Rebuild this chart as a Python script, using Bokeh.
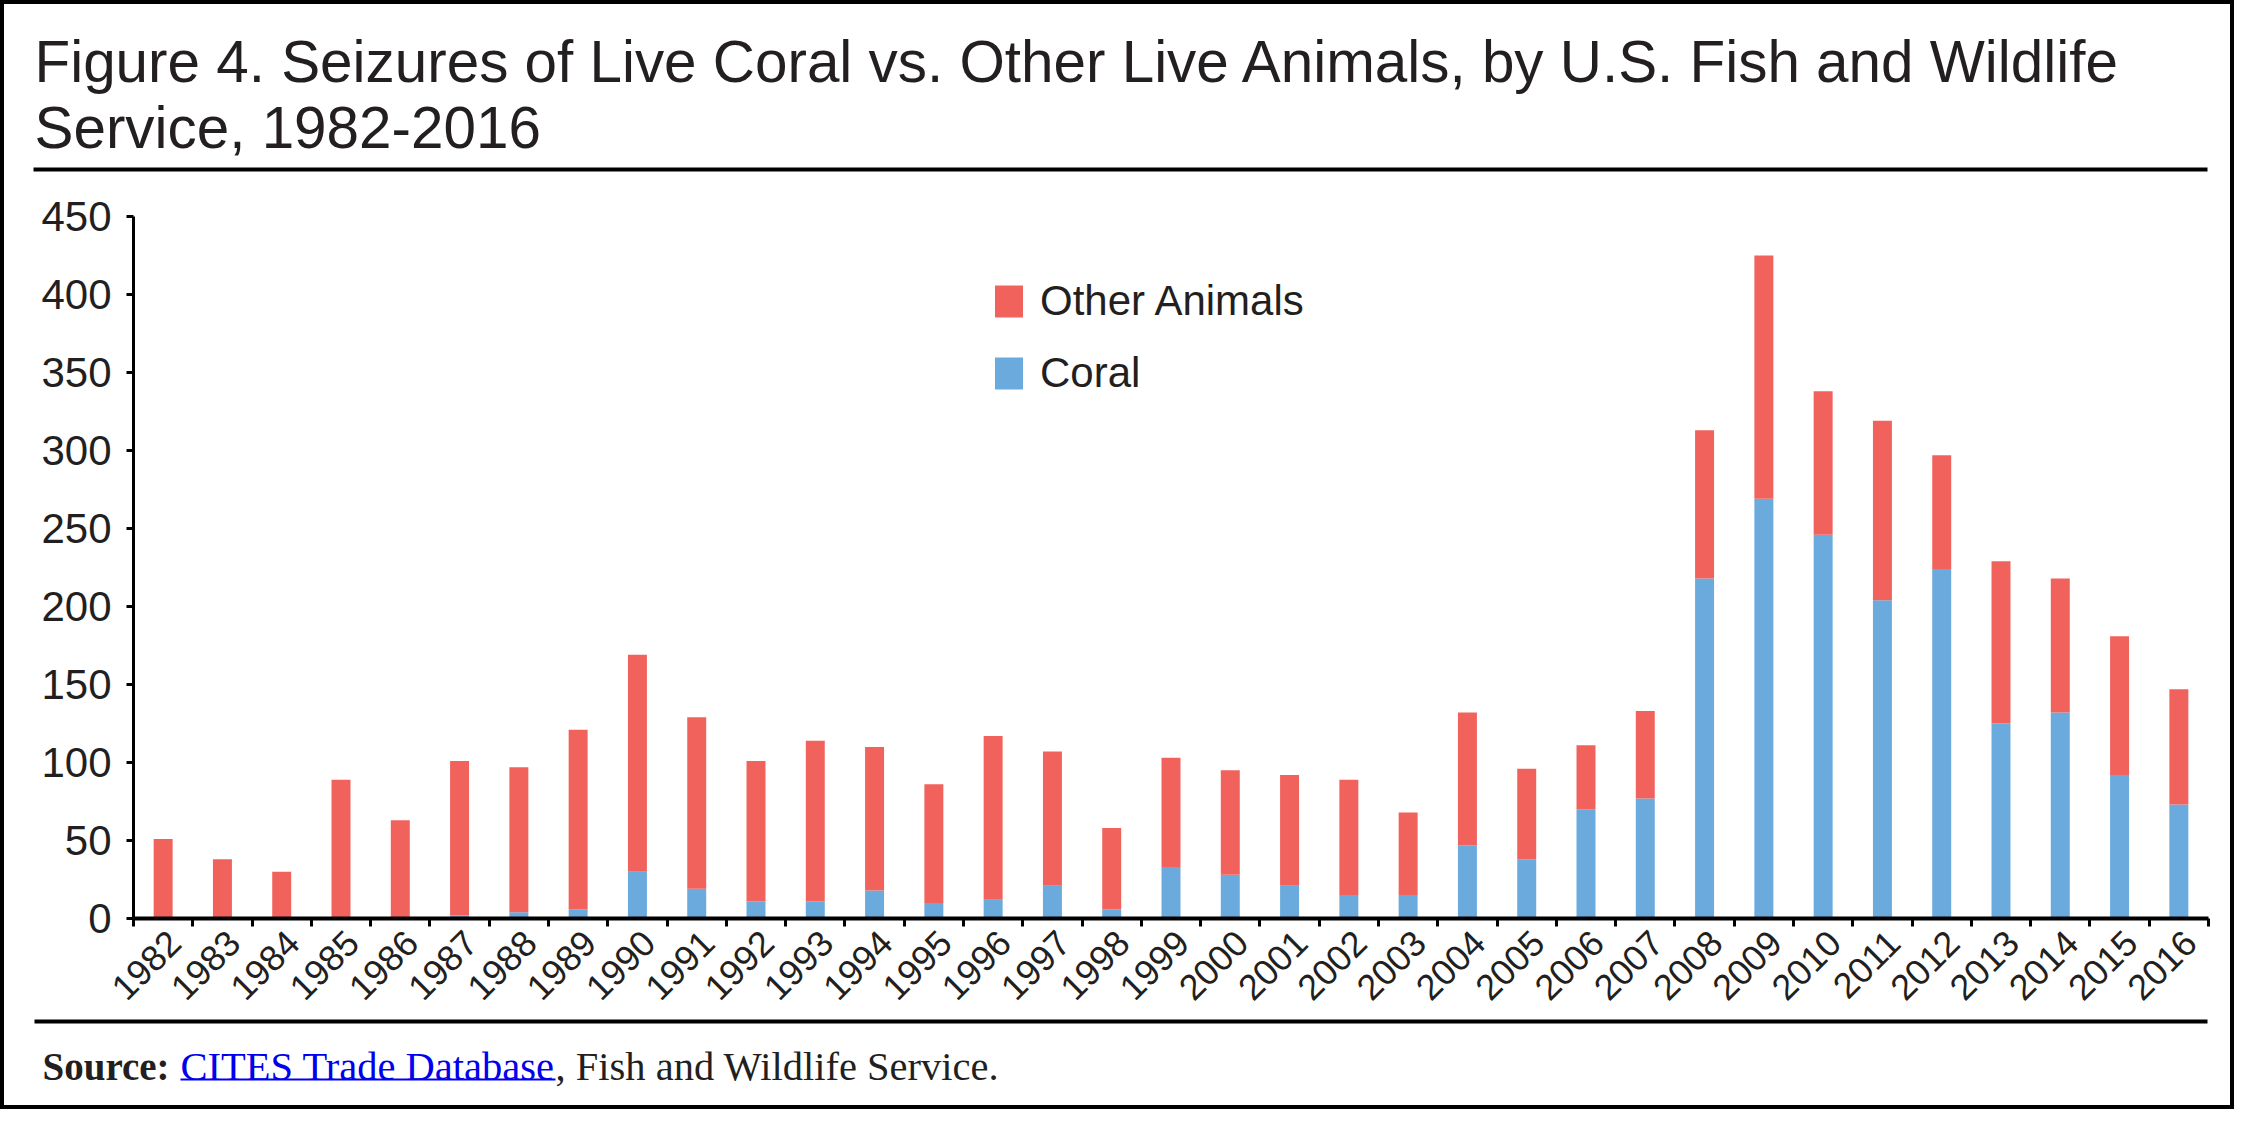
import math
from bokeh.plotting import figure
from bokeh.layouts import column
from bokeh.models import (ColumnDataSource, Range1d, FixedTicker, LinearAxis,
                          Legend, LegendItem)
from bokeh.core.properties import value
from bokeh.embed import file_html
from bokeh.resources import INLINE

# ---------------- data ----------------
years = ["1982", "1983", "1984", "1985", "1986", "1987", "1988", "1989", "1990",
         "1991", "1992", "1993", "1994", "1995", "1996", "1997", "1998", "1999",
         "2000", "2001", "2002", "2003", "2004", "2005", "2006", "2007", "2008",
         "2009", "2010", "2011", "2012", "2013", "2014", "2015", "2016"]
coral = [0, 0, 0, 1, 1, 2, 4, 6, 30,
         19, 11, 11, 18, 10, 12, 21, 6, 33,
         28, 21, 15, 15, 47, 38, 70, 77, 218,
         269, 246, 204, 224, 125, 132, 92, 73]
other_animals = [51, 38, 30, 88, 62, 99, 93, 115, 139,
                 110, 90, 103, 92, 76, 105, 86, 52, 70,
                 67, 71, 74, 53, 85, 58, 41, 56, 95,
                 156, 92, 115, 73, 104, 86, 89, 74]
y_ticks = [0, 50, 100, 150, 200, 250, 300, 350, 400, 450]
series_labels = ["Other Animals", "Coral"]
title_lines = ["Figure 4. Seizures of Live Coral vs. Other Live Animals, by U.S. Fish and Wildlife",
               "Service, 1982-2016"]
source_parts = ["Source:", "CITES Trade Database", ", Fish and Wildlife Service."]

# ---------------- styling ----------------
RED = "#F1625D"
BLUE = "#6BAADC"
INK = "#231F20"
LINK = "#0000EE"
SANS = "Liberation Sans"
SERIF = "Liberation Serif"

W = 2226                 # inner width (inside the 4px page border)
HEAD_H, CHART_H, FOOT_H = 176, 835, 90
FL, FR, FT, FB = 129, 2204, 36, 738   # chart frame edges inside the chart figure
BASE_SHIFT = 0.23                     # baseline correction (fraction of font size)


def blank(h):
    f = figure(width=W, height=h, output_backend="svg", toolbar_location=None,
               x_range=Range1d(0, W), y_range=Range1d(h, 0),
               x_axis_type=None, y_axis_type=None,
               min_border=0, min_border_left=0, min_border_right=0,
               min_border_top=0, min_border_bottom=0)
    f.outline_line_color = None
    f.grid.visible = False
    f.frame_align = False
    return f


# ---------------- header ----------------
head = blank(HEAD_H)
T_SIZE = 58.4
head.text(x=[30, 30], y=[70 - BASE_SHIFT * T_SIZE, 136 - BASE_SHIFT * T_SIZE], text=title_lines,
          text_font=value(SANS), text_font_size=value(f"{T_SIZE}px"), text_color=INK,
          text_baseline="alphabetic", text_align="left")
head.quad(left=[29], right=[2203], top=[163], bottom=[167], fill_color="black", line_color=None)

# ---------------- chart ----------------
n = len(years)
centers = [i + 0.5 for i in range(n)]
bounds = [float(i) for i in range(n + 1)]
label_pos = [c + 0.1875 for c in centers]

src = ColumnDataSource(dict(x=centers, coral=coral, other=other_animals))

p = figure(width=W, height=CHART_H, output_backend="svg", toolbar_location=None,
           x_range=Range1d(0, n), y_range=Range1d(0, 450),
           min_border_left=FL, min_border_right=W - FR,
           min_border_top=FT, min_border_bottom=CHART_H - FB,
           x_axis_type=None, y_axis_type=None)
p.outline_line_color = None
p.frame_align = False

renderers = p.vbar_stack(["coral", "other"], x="x", width=0.32, source=src,
                         fill_color=[BLUE, RED], line_color=None)

xaxis = LinearAxis(ticker=FixedTicker(ticks=label_pos, minor_ticks=bounds))
xaxis.major_label_overrides = {pos: yr for pos, yr in zip(label_pos, years)}
xaxis.major_label_orientation = math.pi / 4
xaxis.major_label_text_font = SANS
xaxis.major_label_text_font_size = "36px"
xaxis.major_label_text_color = INK
xaxis.major_tick_line_color = None
xaxis.major_tick_out = 8
xaxis.major_label_standoff = 10
xaxis.minor_tick_out = 8
xaxis.minor_tick_in = 0
xaxis.minor_tick_line_width = 3
xaxis.minor_tick_line_color = "black"
xaxis.axis_line_width = 4
xaxis.axis_line_color = "black"
p.add_layout(xaxis, "below")

yaxis = LinearAxis(ticker=FixedTicker(ticks=y_ticks))
yaxis.major_label_text_font = SANS
yaxis.major_label_text_font_size = "42px"
yaxis.major_label_text_color = INK
yaxis.major_tick_out = 7
yaxis.major_tick_in = 0
yaxis.major_tick_line_width = 3
yaxis.minor_tick_line_color = None
yaxis.axis_line_width = 3
yaxis.major_label_standoff = 15
p.add_layout(yaxis, "left")

legend = Legend(items=[LegendItem(label=series_labels[0], renderers=[renderers[1]]),
                       LegendItem(label=series_labels[1], renderers=[renderers[0]])],
                location=(858, 521), glyph_width=35, glyph_height=40,
                label_text_font=SANS, label_text_font_size="42px", label_text_color=INK,
                label_standoff=14, spacing=24, padding=0, margin=0,
                border_line_color=None, background_fill_alpha=0)
p.add_layout(legend)

# ---------------- footer ----------------
foot = blank(FOOT_H)
foot.quad(left=[30], right=[2203], top=[4], bottom=[8], fill_color="black", line_color=None)
S_SIZE = 40.5
B_SIZE = 39
base = 60
foot.text(x=[38], y=[base - BASE_SHIFT * B_SIZE], text=[source_parts[0]], text_font=value(SERIF),
          text_font_size=value(f"{B_SIZE}px"), text_font_style="bold", text_color=INK,
          text_baseline="alphabetic")
ty = base - BASE_SHIFT * S_SIZE
foot.text(x=[176], y=[ty], text=[source_parts[1]], text_font=value(SERIF),
          text_font_size=value(f"{S_SIZE}px"), text_color=LINK, text_baseline="alphabetic")
foot.quad(left=[176], right=[551], top=[base + 3], bottom=[base + 5], fill_color=LINK,
          line_color=None)
foot.text(x=[551], y=[ty], text=[source_parts[2]], text_font=value(SERIF),
          text_font_size=value(f"{S_SIZE}px"), text_color=INK, text_baseline="alphabetic")

page = column(head, p, foot, spacing=0, styles={"border": "4px solid black"})

open("out.html", "w").write(file_html(page, INLINE))
